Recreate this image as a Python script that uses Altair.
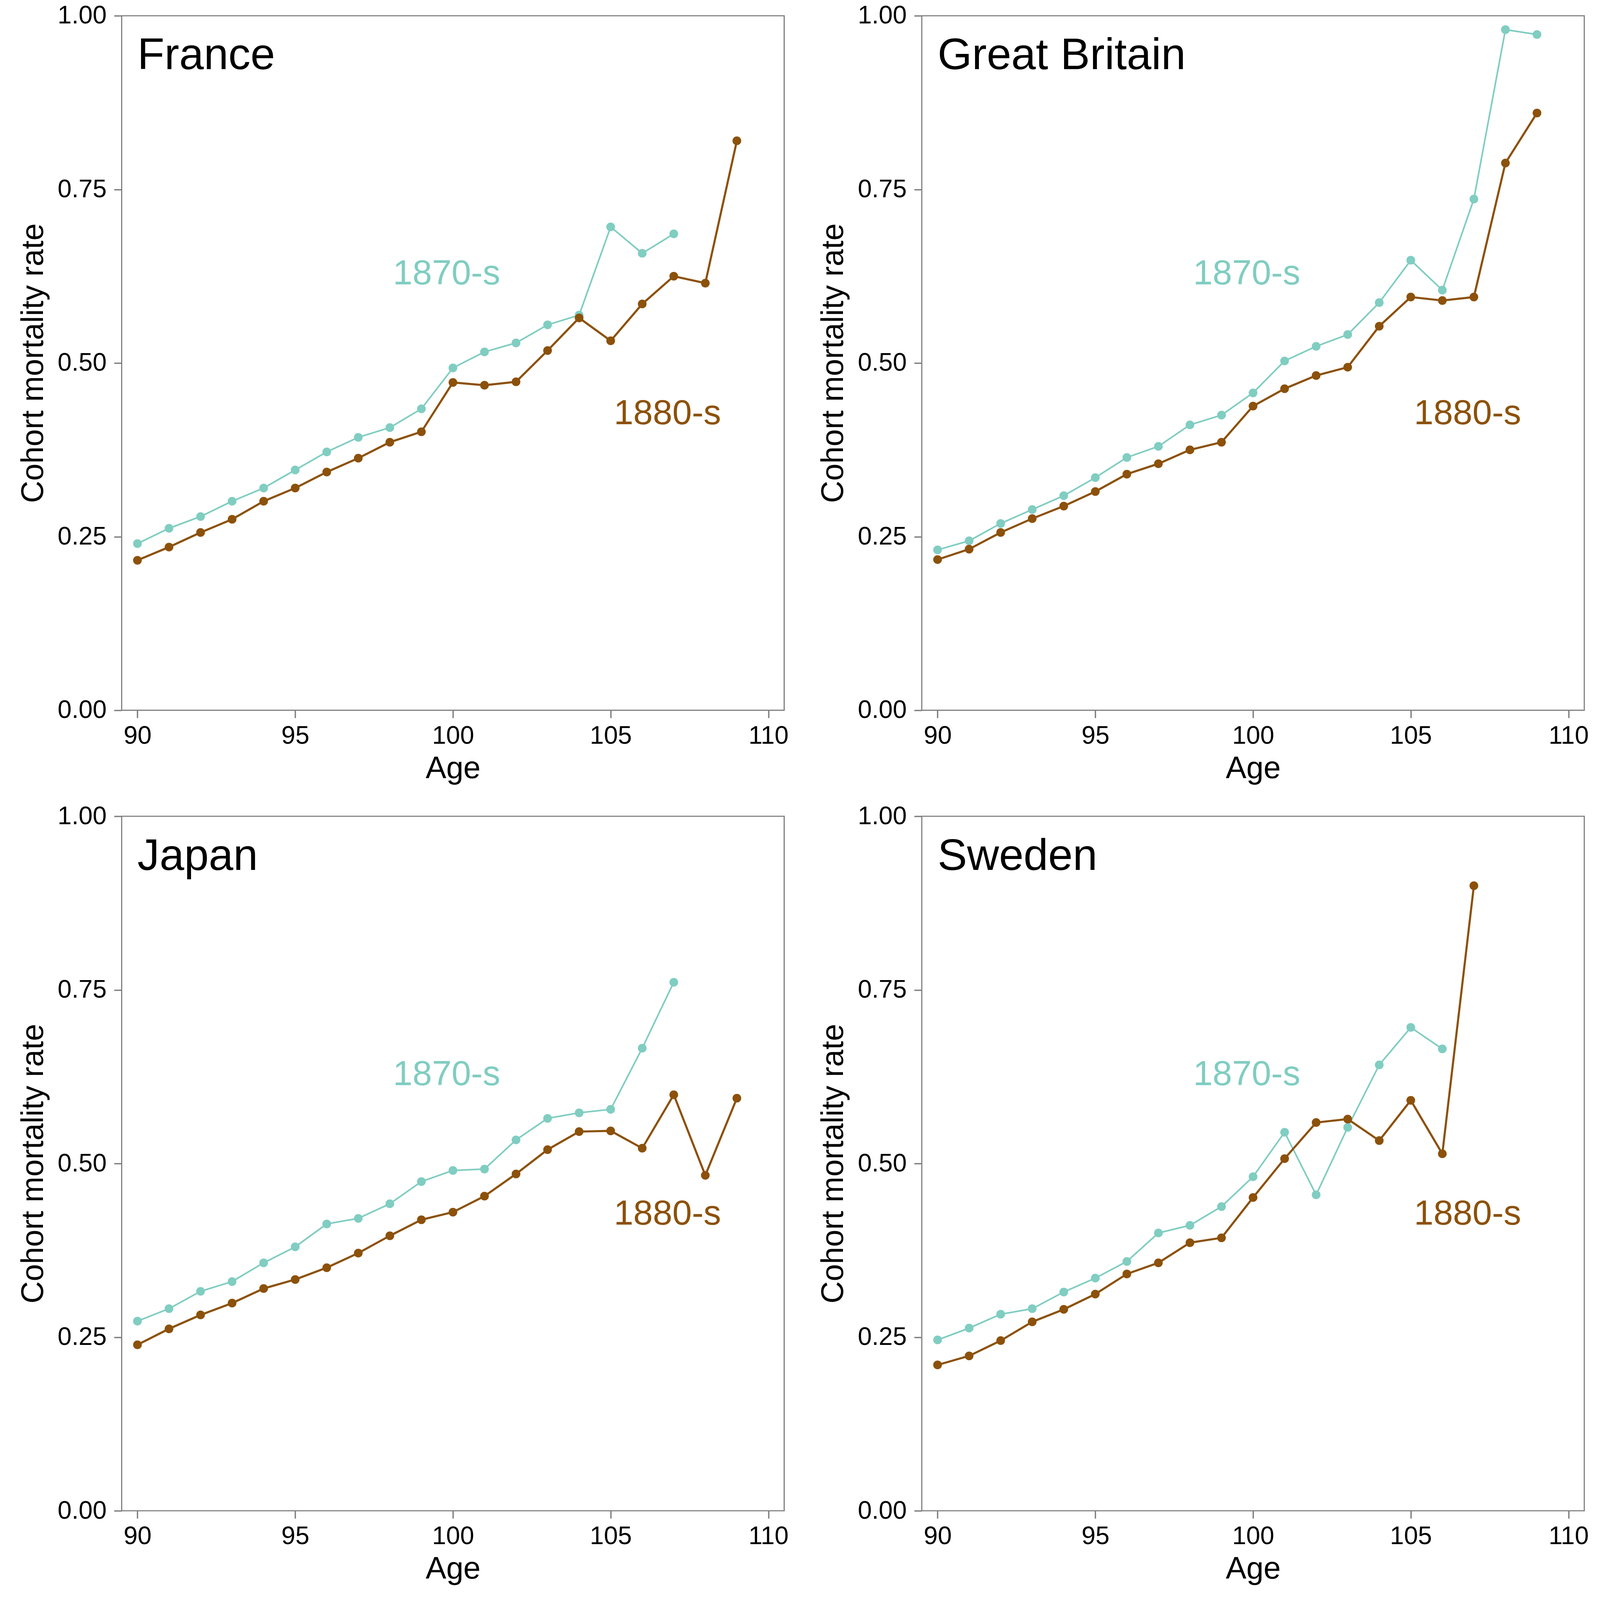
import altair as alt
import pandas as pd

TEAL = "#80CDC1"
BROWN = "#8C510A"
GRAY = "#7f7f7f"
FONT = "Liberation Sans"

countries = ["France", "Great Britain", "Japan", "Sweden"]

france_1870 = [0.240, 0.262, 0.279, 0.301, 0.320, 0.346, 0.372, 0.393, 0.407, 0.434,
               0.493, 0.516, 0.529, 0.555, 0.569, 0.696, 0.658, 0.686]
france_1880 = [0.216, 0.235, 0.256, 0.275, 0.301, 0.320, 0.343, 0.363, 0.386, 0.401,
               0.472, 0.468, 0.473, 0.518, 0.565, 0.532, 0.585, 0.625, 0.615, 0.820]
gb_1870 = [0.231, 0.244, 0.269, 0.289, 0.309, 0.335, 0.364, 0.380, 0.411, 0.425,
           0.457, 0.503, 0.524, 0.541, 0.587, 0.648, 0.605, 0.736, 0.980, 0.973]
gb_1880 = [0.217, 0.232, 0.256, 0.276, 0.294, 0.315, 0.340, 0.355, 0.375, 0.386,
           0.438, 0.463, 0.482, 0.494, 0.553, 0.595, 0.590, 0.595, 0.788, 0.860]
japan_1870 = [0.273, 0.291, 0.316, 0.330, 0.357, 0.380, 0.413, 0.421, 0.442, 0.474,
              0.490, 0.492, 0.534, 0.565, 0.573, 0.578, 0.666, 0.761]
japan_1880 = [0.239, 0.262, 0.282, 0.299, 0.320, 0.333, 0.350, 0.371, 0.396, 0.419,
              0.430, 0.453, 0.485, 0.520, 0.546, 0.547, 0.522, 0.599, 0.483, 0.594]
sweden_1870 = [0.246, 0.263, 0.283, 0.291, 0.315, 0.335, 0.359, 0.400, 0.411, 0.438,
               0.481, 0.545, 0.455, 0.552, 0.642, 0.696, 0.665]
sweden_1880 = [0.210, 0.223, 0.245, 0.272, 0.290, 0.312, 0.341, 0.357, 0.386, 0.393,
               0.451, 0.507, 0.559, 0.564, 0.533, 0.591, 0.514, 0.900]

series = {
    "France": (france_1870, france_1880),
    "Great Britain": (gb_1870, gb_1880),
    "Japan": (japan_1870, japan_1880),
    "Sweden": (sweden_1870, sweden_1880),
}

x_ticks = [90, 95, 100, 105, 110]
y_ticks = [0.0, 0.25, 0.5, 0.75, 1.0]

cohort_labels = ["1870-s", "1880-s"]
cohort_label_x = [99.8, 106.8]
cohort_label_y = [0.613, 0.412]
title_x = 90
title_y = 0.923

W, H = 1738, 1822

xenc = alt.X("age:Q",
             scale=alt.Scale(domain=[89.5, 110.5], nice=False, zero=False),
             axis=alt.Axis(values=x_ticks, title="Age", format="d"))
yenc = alt.Y("rate:Q",
             scale=alt.Scale(domain=[0, 1], nice=False, zero=False),
             axis=alt.Axis(values=y_ticks, title="Cohort mortality rate", format=".2f"))


def panel(name):
    v70, v80 = series[name]
    d70 = pd.DataFrame({"age": list(range(90, 90 + len(v70))), "rate": v70})
    d80 = pd.DataFrame({"age": list(range(90, 90 + len(v80))), "rate": v80})
    layers = []
    for d, col, lw in ((d70, TEAL, 4.2), (d80, BROWN, 5.5)):
        layers.append(alt.Chart(d).mark_line(color=col, strokeWidth=lw).encode(x=xenc, y=yenc))
        layers.append(alt.Chart(d).mark_circle(color=col, size=520, opacity=1).encode(x=xenc, y=yenc))
    lab = pd.DataFrame({"age": cohort_label_x, "rate": cohort_label_y,
                        "label": cohort_labels, "col": [TEAL, BROWN]})
    layers.append(alt.Chart(lab).mark_text(fontSize=92, font=FONT, align="center",
                                           baseline="alphabetic").encode(
        x=xenc, y=yenc, text="label:N", color=alt.Color("col:N", scale=None)))
    tdf = pd.DataFrame({"age": [title_x], "rate": [title_y], "label": [name]})
    layers.append(alt.Chart(tdf).mark_text(fontSize=116, font=FONT, align="left",
                                           baseline="alphabetic", color="black").encode(
        x=xenc, y=yenc, text="label:N"))
    return alt.layer(*layers).properties(width=W, height=H)


chart = alt.concat(*[panel(c) for c in countries], columns=2,
                   spacing={"row": 278, "column": 361}, bounds="flush").properties(
    padding={"left": 37, "top": -53, "right": 20, "bottom": 33}
).configure_view(
    stroke=GRAY, strokeWidth=3
).configure_axis(
    grid=False, domain=False, tickColor=GRAY, tickWidth=3.5, tickSize=20,
    labelFont=FONT, labelFontSize=66, labelColor="black",
    titleFont=FONT, titleFontSize=81, titleColor="black", titleFontWeight="normal",
).configure_axisX(
    labelPadding=15, titlePadding=13
).configure_axisY(
    labelPadding=20, titlePadding=22
)

chart.save("out.html", embed_options={"renderer": "svg", "actions": False})
